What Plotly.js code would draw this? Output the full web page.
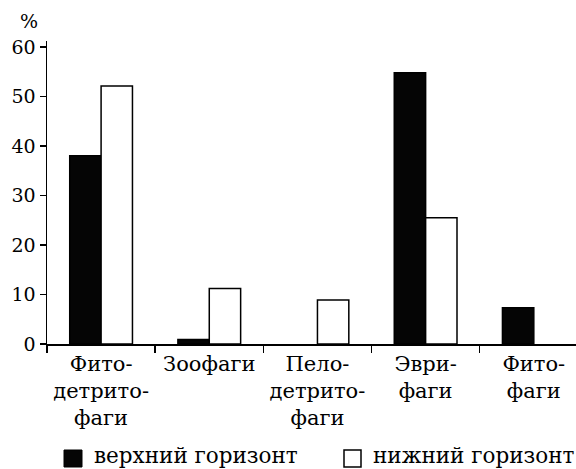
<!DOCTYPE html>
<html>
<head>
<meta charset="utf-8">
<script src="https://cdn.plot.ly/plotly-3.0.1.min.js"></script>
<style>html,body{margin:0;padding:0;background:#fff;}#chart{width:576px;height:469px;}</style>
</head>
<body>
<div id="chart"></div>
<script>
const categories = ["Фито-<br>детрито-<br>фаги", "Зоофаги", "Пело-<br>детрито-<br>фаги", "Эври-<br>фаги", "Фито-<br>фаги"];
const upperHorizon = [38, 0.9, null, 54.8, 7.3];
const lowerHorizon = [52.1, 11.2, 8.9, 25.5, null];
const seriesNames = ["верхний горизонт", "нижний горизонт"];
const yTicks = [0, 10, 20, 30, 40, 50, 60];

const W = 576, H = 469;
const M = {l: 47, r: 0, t: 41, b: 125};
const pw = W - M.l - M.r, ph = H - M.t - M.b;
const px = x => (x - M.l) / pw;
const py = y => 1 - (y - M.t) / ph;

const FONT = "'DejaVu Serif', 'DejaVu Sans', sans-serif";

const traces = [
  {type: "bar", x: categories, y: upperHorizon, name: seriesNames[0],
   marker: {color: "#050505", line: {color: "#000", width: 1.5}}, showlegend: false},
  {type: "bar", x: categories, y: lowerHorizon, name: seriesNames[1],
   marker: {color: "#ffffff", line: {color: "#000", width: 1.5}}, showlegend: false}
];

const layout = {
  width: W, height: H,
  margin: M,
  paper_bgcolor: "#fff", plot_bgcolor: "#fff",
  barmode: "group", bargap: 0.42, bargroupgap: 0,
  font: {family: FONT, color: "#000"},
  xaxis: {
    type: "category", range: [-0.5, 4.39],
    showline: true, linecolor: "#000", linewidth: 1.5,
    ticks: "outside", tickson: "boundaries", ticklen: 7, tickwidth: 1.5, tickcolor: "#000",
    tickfont: {family: FONT, size: 21, color: "#000"},
    showgrid: false, zeroline: false, fixedrange: true
  },
  yaxis: {
    range: [0, 61.2], tickvals: yTicks, ticktext: yTicks.map(String),
    showline: true, linecolor: "#000", linewidth: 1.5,
    ticks: "outside", ticklen: 6, tickwidth: 1.5, tickcolor: "#000",
    tickfont: {family: FONT, size: 19, color: "#000"},
    showgrid: false, zeroline: false, fixedrange: true
  },
  annotations: [
    {xref: "paper", yref: "paper", x: px(29), y: py(21), text: "%", showarrow: false,
     xanchor: "center", yanchor: "middle", font: {family: FONT, size: 19, color: "#000"}},
    {xref: "paper", yref: "paper", x: px(92), y: py(455), text: seriesNames[0], showarrow: false,
     xanchor: "left", yanchor: "middle", font: {family: FONT, size: 21.5, color: "#000"}},
    {xref: "paper", yref: "paper", x: px(371), y: py(455), text: seriesNames[1], showarrow: false,
     xanchor: "left", yanchor: "middle", font: {family: FONT, size: 21.5, color: "#000"}}
  ],
  shapes: [
    {type: "rect", xref: "paper", yref: "paper", x0: px(64), x1: px(82), y0: py(450), y1: py(467),
     fillcolor: "#050505", line: {color: "#000", width: 1}},
    {type: "rect", xref: "paper", yref: "paper", x0: px(344), x1: px(361), y0: py(450), y1: py(467),
     fillcolor: "#fff", line: {color: "#000", width: 1.5}}
  ]
};

Plotly.newPlot("chart", traces, layout, {displayModeBar: false, staticPlot: true});
</script>
</body>
</html>
